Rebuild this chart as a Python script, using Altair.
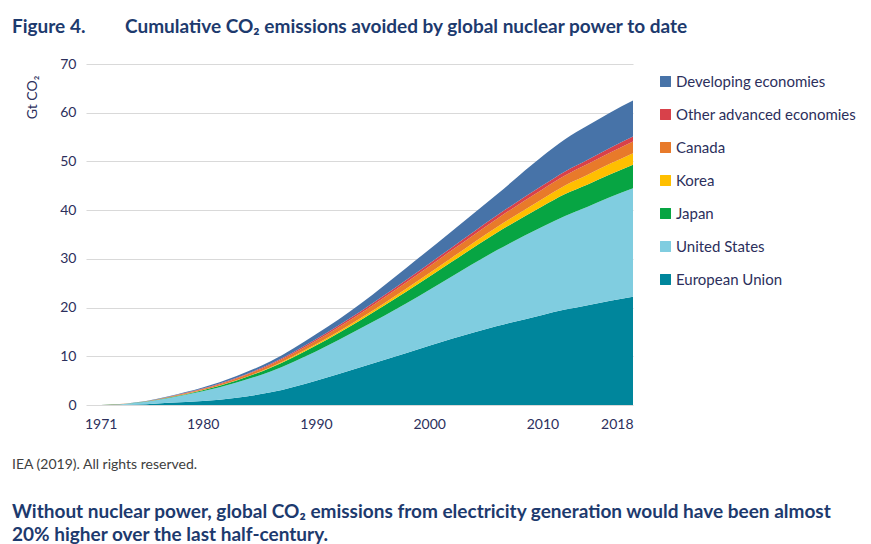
import altair as alt
import pandas as pd

years = [1971, 1973, 1975, 1977, 1980, 1983, 1986, 1990, 1994, 1998, 2002, 2006, 2010, 2012, 2014, 2016, 2018]

european_union = [0, 0.05, 0.15, 0.45, 0.8, 1.5, 2.6, 5.0, 7.8, 10.7, 13.6, 16.2, 18.5, 19.6, 20.5, 21.4, 22.2]
united_states = [0, 0.15, 0.5, 1.0, 2.0, 3.1, 4.3, 6.0, 8.0, 10.2, 12.8, 15.6, 18.1, 19.2, 20.2, 21.3, 22.3]
japan = [0, 0.02, 0.05, 0.1, 0.25, 0.45, 0.75, 1.2, 1.7, 2.4, 3.0, 3.6, 4.2, 4.5, 4.55, 4.65, 4.8]
korea = [0, 0, 0, 0, 0.02, 0.05, 0.12, 0.25, 0.4, 0.6, 0.85, 1.15, 1.5, 1.75, 2.0, 2.2, 2.4]
canada = [0, 0.02, 0.05, 0.1, 0.2, 0.35, 0.5, 0.75, 1.0, 1.3, 1.5, 1.7, 1.95, 2.05, 2.2, 2.3, 2.4]
other_advanced = [0, 0.01, 0.03, 0.05, 0.1, 0.15, 0.2, 0.3, 0.4, 0.5, 0.6, 0.7, 0.8, 0.85, 0.9, 0.95, 1.0]
developing = [0, 0.01, 0.05, 0.1, 0.2, 0.35, 0.5, 1.0, 1.6, 2.5, 3.3, 4.3, 6.0, 6.6, 7.0, 7.25, 7.4]

legend_order = ["Developing economies", "Other advanced economies", "Canada", "Korea",
                "Japan", "United States", "European Union"]
colors = ["#4773a8", "#d8414a", "#e87a2a", "#ffbf00", "#07a543", "#80cde0", "#00869c"]

series = {
    "European Union": european_union,
    "United States": united_states,
    "Japan": japan,
    "Korea": korea,
    "Canada": canada,
    "Other advanced economies": other_advanced,
    "Developing economies": developing,
}

rows = []
for stack_pos, (name, vals) in enumerate(series.items()):
    for yr, v in zip(years, vals):
        rows.append({"year": yr, "region": name, "value": v, "stack": stack_pos})
df = pd.DataFrame(rows)

FONT = "Lato"
NAVY = "#1d3a6e"
LABEL = "#2c2f5c"

area = alt.Chart(df).mark_area(interpolate="monotone").encode(
    x=alt.X("year:Q",
            scale=alt.Scale(domain=[1969.7, 2018], nice=False, zero=False),
            axis=alt.Axis(values=[1971, 1980, 1990, 2000, 2010, 2018], format="d",
                          grid=False, domain=False, ticks=False, title=None,
                          labelPadding=12, labelFontSize=14, labelColor=LABEL,
                          labelFont=FONT)),
    y=alt.Y("value:Q", stack="zero",
            scale=alt.Scale(domain=[0, 70], nice=False),
            axis=alt.Axis(values=[0, 10, 20, 30, 40, 50, 60, 70], grid=True,
                          gridColor="#d9d9d9", domain=False, ticks=False,
                          labelPadding=10, labelFontSize=14, labelColor=LABEL,
                          labelFont=FONT, title="Gt CO₂", titleFont=FONT,
                          titleFontSize=14, titleFontWeight="normal",
                          titleColor=LABEL, titleAngle=270, titleX=-54, titleY=33,
                          titleAlign="center", titleBaseline="middle")),
    color=alt.Color("region:N",
                    scale=alt.Scale(domain=legend_order, range=colors),
                    legend=alt.Legend(title=None, orient="none", legendX=572, legendY=10,
                                      symbolType="square", symbolSize=120,
                                      symbolStrokeWidth=0, labelFontSize=15,
                                      labelFont=FONT, labelColor=LABEL,
                                      rowPadding=17, labelOffset=3, labelLimit=300)),
    order=alt.Order("stack:Q", sort="ascending"),
)

def txt(s, x, y, size, weight="normal", color=NAVY):
    return alt.Chart(pd.DataFrame({"t": [s]})).mark_text(
        align="left", baseline="middle", font=FONT, fontSize=size,
        fontWeight=weight, color=color
    ).encode(text="t:N", x=alt.value(x), y=alt.value(y))

title1 = txt("Figure 4.", -74, -37, 19, "bold")
title2 = txt("Cumulative CO₂ emissions avoided by global nuclear power to date", 39, -37, 19, "bold")
source = txt("IEA (2019). All rights reserved.", -74, 401, 14, "normal", "#404040")
note1 = txt("Without nuclear power, global CO₂ emissions from electricity generation would have been almost",
            -74, 448, 19, "bold")
note2 = txt("20% higher over the last half-century.", -74, 471, 19, "bold")

chart = alt.layer(area, title1, title2, source, note1, note2).properties(
    width=547, height=341,
    autosize=alt.AutoSizeParams(type="none"),
    padding={"left": 78, "top": 56, "right": 230, "bottom": 139},
).configure_view(stroke=None)

chart.save("out.html", embed_options={"renderer": "svg", "actions": False})
